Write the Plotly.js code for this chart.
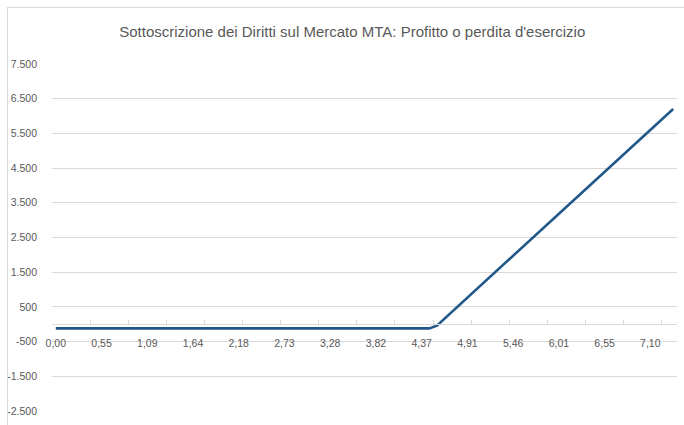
<!DOCTYPE html>
<html>
<head>
<meta charset="utf-8">
<script src="https://cdn.plot.ly/plotly-3.0.1.min.js"></script>
<style>
  html, body { margin: 0; padding: 0; background: #fff; }
  #frame { position: absolute; left: 7px; top: 7px; width: 700px; height: 440px;
           border-left: 1px solid #d9d9d9; border-top: 1px solid #d9d9d9; pointer-events: none; }
  #chart { position: absolute; left: 0; top: 0; width: 684px; height: 425px; }
</style>
</head>
<body>
<div id="chart"></div>
<div id="frame"></div>
<script>
// Data
const price = [0, 4.459, 4.550, 7.371];          // underlying price (x)
const profit = [-120, -120, -40, 6205];           // profit / loss
const xLabelValues = [0, 0.546, 1.092, 1.638, 2.184, 2.730, 3.276, 3.822, 4.368, 4.914, 5.460, 6.006, 6.552, 7.098];
const xLabelText = ['0,00','0,55','1,09','1,64','2,18','2,73','3,28','3,82','4,37','4,91','5,46','6,01','6,55','7,10'];
const yTickValues = [-2500, -1500, -500, 500, 1500, 2500, 3500, 4500, 5500, 6500, 7500];
const yTickText = ['-2.500','-1.500','-500','500','1.500','2.500','3.500','4.500','5.500','6.500','7.500'];

const FONT = '"Liberation Sans", Arial, sans-serif';
const GREY = '#d9d9d9';
const TXT = '#595959';
const xRange = [-0.0455, 7.4165];

const trace = {
  x: price, y: profit, type: 'scatter', mode: 'lines',
  line: { color: '#22578a', width: 2.6 },
  hoverinfo: 'skip', showlegend: false
};

const layout = {
  width: 684, height: 425,
  margin: { l: 52, r: 7, t: 64, b: 14, pad: 0 },
  paper_bgcolor: '#ffffff', plot_bgcolor: '#ffffff',
  font: { family: FONT, color: TXT, size: 11 },
  title: {
    text: "Sottoscrizione dei Diritti sul Mercato MTA: Profitto o perdita d'esercizio",
    font: { family: FONT, size: 15, color: TXT },
    x: 0.515, xanchor: 'center', y: 0.925, yanchor: 'middle', xref: 'container', yref: 'container'
  },
  xaxis: {
    range: xRange, anchor: 'free', position: 0.25,
    showgrid: false, zeroline: false, showline: true, linecolor: GREY, linewidth: 1,
    tickmode: 'array', tickvals: xLabelValues, ticktext: xLabelText,
    ticks: '', ticklabelstandoff: 9,
    tickfont: { family: FONT, size: 10.5, color: TXT }
  },
  xaxis2: {
    range: xRange, overlaying: 'x', anchor: 'free', position: 0.25, side: 'bottom',
    showgrid: false, zeroline: false, showline: false,
    tickmode: 'linear', tick0: -0.0455, dtick: 0.455,
    ticks: 'inside', ticklen: 4, tickcolor: GREY, tickwidth: 1, showticklabels: false
  },
  yaxis: {
    range: [-2500, 7500], showgrid: true, gridcolor: GREY, gridwidth: 1,
    zeroline: false, showline: false, ticks: '',
    tickmode: 'array', tickvals: yTickValues, ticktext: yTickText,
    ticklabelstandoff: 14,
    tickfont: { family: FONT, size: 10.5, color: TXT }
  }
};

const dummy = { x: [xRange[0]], y: [null], xaxis: 'x2', type: 'scatter', mode: 'lines', showlegend: false, hoverinfo: 'skip' };

Plotly.newPlot('chart', [trace, dummy], layout, { displayModeBar: false, staticPlot: true });
</script>
</body>
</html>
